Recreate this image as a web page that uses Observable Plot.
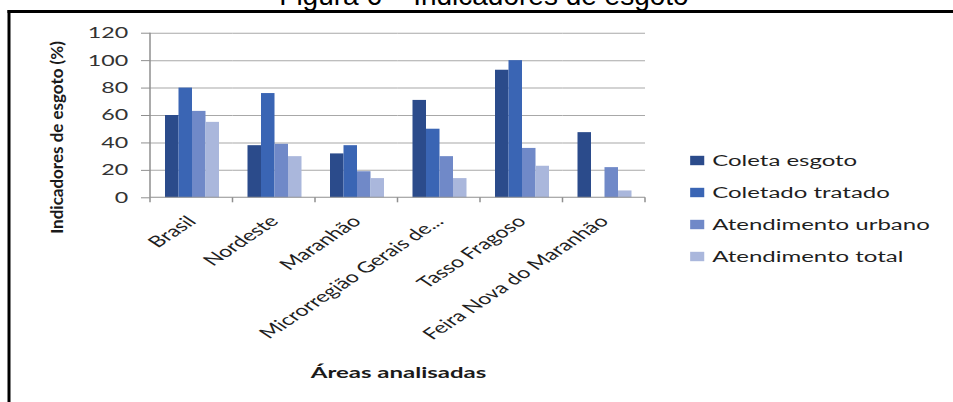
<!DOCTYPE html>
<html>
<head>
<meta charset="utf-8">
<script src="https://cdn.jsdelivr.net/npm/d3@7"></script>
<script src="https://cdn.jsdelivr.net/npm/@observablehq/plot@0.6"></script>
<style>
  html, body { margin: 0; padding: 0; background: #fff; overflow: hidden; }
  #figure { position: relative; width: 953px; height: 402px; overflow: hidden; background: #fff; }
  /* the chart body is drawn narrow and widened horizontally */
  #stage { position: absolute; left: 0; top: 0; width: 635.33px; height: 402px;
           transform: scaleX(1.5); transform-origin: 0 0; }
  #stage > svg, #figure > svg { position: absolute; }
</style>
</head>
<body>
<div id="figure"><div id="stage"></div></div>
<script>
// Áreas analisadas
const areas = ["Brasil", "Nordeste", "Maranhão", "Microrregião Gerais de...", "Tasso Fragoso", "Feira Nova do Maranhão"];
// Indicadores
const series = ["Coleta esgoto", "Coletado tratado", "Atendimento urbano", "Atendimento total"];
// Valores (%) por área, na ordem de `areas`
const coletaEsgoto      = [60, 38, 32, 71, 93, 47.5];
const coletadoTratado   = [80, 76, 38, 50, 100, 0];
const atendimentoUrbano = [63, 39, 19, 30, 36, 22];
const atendimentoTotal  = [55, 30, 14, 14, 23, 5];
const seriesColors = ["#2b4b8b", "#3a65b4", "#7089c8", "#aab7dc"];
const yTicks = [0, 20, 40, 60, 80, 100, 120];

const valuesBySeries = [coletaEsgoto, coletadoTratado, atendimentoUrbano, atendimentoTotal];
const rows = areas.flatMap((area, i) =>
  series.map((serie, j) => ({area, serie, value: valuesBySeries[j][i]})));

const FONT = "Lato, 'Open Sans', sans-serif";
const stage = document.getElementById("stage");
const figure = document.getElementById("figure");

// grouped bars: one facet per area, one band per indicator
const chart = Plot.plot({
  width: 440,
  height: 402,
  marginLeft: 98,
  marginRight: 8.7,
  marginTop: 32.7,
  marginBottom: 204.7,
  style: {fontFamily: FONT, fontSize: "15px", background: "transparent", overflow: "visible"},
  fx: {domain: areas, padding: 0, label: null},
  x: {domain: series, paddingInner: 0, paddingOuter: 0.8, axis: null},
  y: {domain: [0, 120], label: null},
  color: {domain: series, range: seriesColors},
  marks: [
    Plot.ruleY(yTicks.filter(t => t > 0), {stroke: "#a8a8a8"}),
    Plot.barY(rows, {fx: "area", x: "serie", y: "value", fill: "serie"}),
    Plot.axisY({ticks: yTicks, tickSize: 6, tickPadding: 9, stroke: "#8f8f8f",
                fill: "#333333", label: null, fontSize: 15.5}),
    Plot.axisFx({anchor: "bottom", tickRotate: -45, tickSize: 0, tickPadding: 21,
                 label: null, fill: "#1f1f1f", fontSize: 15.5})
  ]
});
chart.style.left = "0px";
chart.style.top = "0px";
stage.appendChild(chart);

// axis lines: vertical value axis, baseline and category boundary ticks
const fxScale = chart.scale("fx");
const yScale = chart.scale("y");
const bounds = areas.map(a => fxScale.apply(a));
bounds.push(fxScale.apply(areas[areas.length - 1]) + fxScale.bandwidth);
const y0 = yScale.apply(0), yTop = yScale.apply(120);
const axes = d3.select(chart).append("g").attr("stroke", "#8f8f8f").attr("fill", "none");
axes.append("line").attr("x1", bounds[0]).attr("x2", bounds[0]).attr("y1", yTop).attr("y2", y0);
axes.append("line").attr("x1", bounds[0]).attr("x2", bounds[bounds.length - 1]).attr("y1", y0).attr("y2", y0);
axes.selectAll(".b").data(bounds).join("line")
  .attr("x1", d => d).attr("x2", d => d).attr("y1", y0).attr("y2", y0 + 5);

// legend
const legend = Plot.plot({
  width: 180,
  height: 140,
  marginLeft: 9.3,
  marginRight: 0,
  marginTop: 19,
  marginBottom: 23,
  style: {fontFamily: FONT, fontSize: "16px", background: "transparent", overflow: "visible"},
  x: {domain: [0, 1], axis: null},
  y: {type: "point", domain: series, padding: 0, axis: null},
  color: {domain: series, range: seriesColors},
  marks: [
    Plot.dot(series, {x: () => 0, y: d => d, fill: d => d, symbol: "square", r: 5.3}),
    Plot.text(series, {x: () => 0, y: d => d, text: d => d, textAnchor: "start", dx: 10, fill: "#1f1f1f"})
  ]
});
legend.style.left = "455px";
legend.style.top = "140px";
stage.appendChild(legend);

// category axis title
const xTitle = d3.select(stage).append("svg")
  .attr("width", 635).attr("height", 402).style("left", "0px").style("top", "0px");
xTitle.append("text")
  .attr("x", 265.7).attr("y", 378)
  .attr("text-anchor", "middle")
  .attr("font-family", FONT).attr("font-weight", "bold").attr("font-size", 16)
  .attr("fill", "#1a1a1a")
  .text("Áreas analisadas");

// frame, figure title and value axis title
const over = d3.select(figure).append("svg")
  .attr("width", 953).attr("height", 402).style("left", "0px").style("top", "0px");
over.append("text")
  .attr("x", 484).attr("y", 5)
  .attr("text-anchor", "middle")
  .attr("font-family", "'Liberation Sans', Arial, sans-serif").attr("font-size", 28)
  .attr("fill", "#000")
  .text("Figura 6 – Indicadores de esgoto");
over.append("rect").attr("x", 7.5).attr("y", 10).attr("width", 946).attr("height", 3).attr("fill", "#000");
over.append("rect").attr("x", 7.5).attr("y", 10).attr("width", 3).attr("height", 392).attr("fill", "#000");
over.append("text")
  .attr("transform", "translate(63,137.5) rotate(-90)")
  .attr("text-anchor", "middle")
  .attr("font-family", FONT).attr("font-weight", "bold").attr("font-size", 17)
  .attr("fill", "#1a1a1a")
  .text("Indicadores de esgoto (%)");
</script>
</body>
</html>
